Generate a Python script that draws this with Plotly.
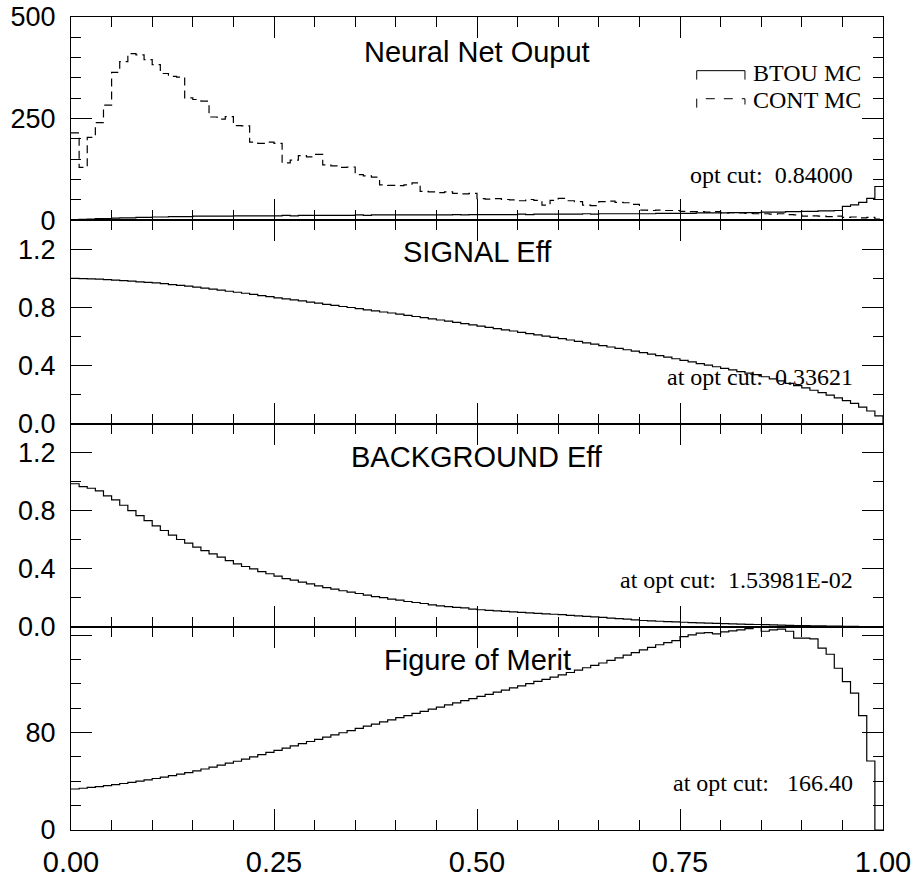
import plotly.graph_objects as go

# ---- data: 100 bins of neural-net output, width 0.01 ----
bin_edges = [round(0.01 * i, 2) for i in range(101)]

btou_mc = [1, 2, 3, 4, 4, 5, 6, 6, 7, 7,
           8, 8, 9, 9, 9, 10, 10, 10, 10, 10,
           11, 11, 11, 11, 11, 11, 12, 11, 12, 12,
           12, 12, 12, 12, 12, 13, 12, 13, 13, 13,
           13, 13, 13, 13, 13, 13, 13, 14, 13, 14,
           14, 14, 14, 14, 14, 15, 14, 15, 15, 15,
           15, 15, 15, 16, 15, 16, 16, 16, 16, 16,
           16, 16, 17, 17, 17, 17, 17, 18, 18, 18,
           18, 19, 19, 19, 19, 20, 20, 20, 21, 21,
           22, 22, 23, 23, 24, 34, 38, 44, 54, 83]

cont_mc = [215, 130, 204, 240, 283, 364, 390, 410, 407, 395,
           383, 361, 354, 352, 301, 297, 293, 254, 249, 255,
           233, 232, 192, 189, 192, 189, 141, 148, 159, 156,
           162, 136, 134, 130, 131, 112, 109, 106, 87, 86,
           85, 87, 92, 71, 70, 68, 70, 66, 65, 66,
           53, 52, 53, 51, 50, 48, 51, 49, 37, 49,
           54, 48, 46, 37, 36, 46, 47, 44, 43, 39,
           25, 24, 25, 24, 24, 22, 21, 21, 20, 21,
           18, 19, 18, 17, 16, 16, 15, 16, 14, 13,
           10, 11, 10, 9, 10, 7, 8, 6, 7, 3]

signal_eff = [1.000, 0.998, 0.996, 0.994, 0.991, 0.988, 0.984, 0.980, 0.976, 0.972,
              0.968, 0.963, 0.957, 0.952, 0.946, 0.940, 0.933, 0.926, 0.919, 0.911,
              0.904, 0.897, 0.889, 0.881, 0.874, 0.866, 0.859, 0.851, 0.844, 0.836,
              0.829, 0.821, 0.814, 0.806, 0.799, 0.791, 0.783, 0.776, 0.768, 0.761,
              0.753, 0.745, 0.737, 0.729, 0.721, 0.713, 0.705, 0.696, 0.688, 0.679,
              0.671, 0.662, 0.654, 0.645, 0.637, 0.628, 0.619, 0.611, 0.602, 0.593,
              0.584, 0.575, 0.566, 0.556, 0.547, 0.537, 0.527, 0.518, 0.508, 0.498,
              0.488, 0.478, 0.467, 0.457, 0.446, 0.435, 0.424, 0.413, 0.402, 0.391,
              0.380, 0.369, 0.358, 0.347, 0.33621, 0.322, 0.308, 0.293, 0.277, 0.261,
              0.245, 0.229, 0.212, 0.195, 0.177, 0.158, 0.138, 0.113, 0.086, 0.053]

background_eff = [0.985, 0.965, 0.954, 0.936, 0.901, 0.874, 0.837, 0.800, 0.766, 0.731,
                  0.695, 0.663, 0.631, 0.601, 0.576, 0.548, 0.525, 0.502, 0.479, 0.456,
                  0.433, 0.415, 0.399, 0.380, 0.365, 0.349, 0.332, 0.321, 0.307, 0.296,
                  0.282, 0.270, 0.259, 0.248, 0.239, 0.229, 0.218, 0.208, 0.200, 0.190,
                  0.184, 0.174, 0.167, 0.160, 0.151, 0.144, 0.138, 0.134, 0.130, 0.122,
                  0.117, 0.113, 0.109, 0.106, 0.102, 0.099, 0.095, 0.092, 0.089, 0.086,
                  0.083, 0.079, 0.075, 0.071, 0.068, 0.064, 0.060, 0.056, 0.052, 0.047,
                  0.043, 0.040, 0.038, 0.035, 0.033, 0.031, 0.029, 0.027, 0.025, 0.023,
                  0.0215, 0.0200, 0.0184, 0.0169, 0.0153981, 0.0140, 0.0126, 0.0112, 0.0098, 0.0087,
                  0.0075, 0.0066, 0.0056, 0.0047, 0.0039, 0.0030, 0.0024, 0.0017, 0.0011, 0.0003]

figure_of_merit = [33.7, 34.3, 35.0, 35.7, 36.5, 37.3, 38.2, 39.2, 40.2, 41.2,
                   42.3, 43.5, 44.7, 45.9, 47.2, 48.5, 50.1, 51.7, 53.3, 54.9,
                   56.5, 58.3, 60.1, 61.9, 63.7, 65.5, 67.3, 69.1, 70.9, 72.7,
                   74.5, 76.3, 78.1, 79.9, 81.7, 83.5, 85.3, 87.0, 88.8, 90.5,
                   92.3, 94.0, 95.8, 97.5, 99.3, 101.0, 102.8, 104.5, 106.3, 108.0,
                   109.8, 111.5, 113.3, 115.0, 116.8, 118.5, 120.3, 122.1, 123.8, 125.6,
                   127.4, 129.4, 131.3, 133.3, 135.2, 137.2, 139.4, 141.5, 143.7, 145.8,
                   148.0, 150.1, 152.2, 154.0, 155.6, 158.9, 160.3, 161.7, 162.2, 161.1,
                   162.8, 163.6, 164.4, 165.5, 166.40, 163.3, 164.4, 165.0, 163.3, 157.6,
                   157.6, 157.0, 149.4, 144.4, 132.9, 121.9, 112.4, 94.0, 56.7, 0.0]

panel_titles = ["Neural Net Ouput", "SIGNAL Eff", "BACKGROUND Eff", "Figure of Merit"]
cut_texts = ["opt cut:\u00a0\u00a00.84000",
             "at opt cut:\u00a0\u00a00.33621",
             "at opt cut:\u00a0\u00a01.53981E-02",
             "at opt cut:\u00a0\u00a0\u00a0166.40"]
legend_names = ["BTOU MC", "CONT MC"]

x_ticks = [0.0, 0.25, 0.50, 0.75, 1.00]
x_tick_text = ["0.00", "0.25", "0.50", "0.75", "1.00"]

SANS = "Liberation Sans, Arial, Helvetica, sans-serif"
SERIF = "Liberation Serif, Times New Roman, serif"

fig = go.Figure()


def step_trace(values, axis_idx, dash="solid", close_at_end=False):
    xs = list(bin_edges)
    ys = list(values) + [values[-1]]
    if close_at_end:
        xs = xs + [bin_edges[-1]]
        ys = ys + [0]
    sfx = "" if axis_idx == 1 else str(axis_idx)
    return go.Scatter(x=xs, y=ys, mode="lines", line_shape="hv",
                      line=dict(color="black", width=1.2, dash=dash),
                      xaxis="x" + sfx, yaxis="y" + sfx, showlegend=False,
                      hoverinfo="skip")


fig.add_trace(step_trace(btou_mc, 1))
fig.add_trace(step_trace(cont_mc, 1, dash="8px,5px"))
fig.add_trace(step_trace(signal_eff, 2, close_at_end=True))
fig.add_trace(step_trace(background_eff, 3))
fig.add_trace(step_trace(figure_of_merit, 4))

# panel stacking (top to bottom)
n = 4
h = 1.0 / n
domains = [[1 - (i + 1) * h, 1 - i * h] for i in range(n)]

y_specs = [
    dict(range=[0, 500], tickvals=[0, 250, 500], ticktext=["0", "250", "500"], minor_dtick=50),
    dict(range=[0, 1.4], tickvals=[0, 0.4, 0.8, 1.2], ticktext=["0.0", "0.4", "0.8", "1.2"], minor_dtick=0.2),
    dict(range=[0, 1.4], tickvals=[0, 0.4, 0.8, 1.2], ticktext=["0.0", "0.4", "0.8", "1.2"], minor_dtick=0.2),
    dict(range=[0, 167], tickvals=[0, 80, 160], ticktext=["0", "80", ""], minor_dtick=20),
]

layout = dict(
    width=917, height=882,
    margin=dict(l=71, r=34, t=17, b=52, autoexpand=False),
    paper_bgcolor="white", plot_bgcolor="white",
    showlegend=False,
)

for i in range(n):
    sfx = "" if i == 0 else str(i + 1)
    spec = y_specs[i]
    layout["xaxis" + sfx] = dict(
        domain=[0, 1], anchor="y" + sfx, range=[0, 1], automargin=False,
        showline=True, linecolor="black", linewidth=1, mirror="ticks",
        ticks="inside", ticklen=21, tickwidth=1, tickcolor="black",
        tickmode="array", tickvals=x_ticks, ticktext=x_tick_text,
        showticklabels=(i == n - 1),
        tickfont=dict(family=SANS, size=29, color="black"),
        ticklabelstandoff=6,
        showgrid=False, zeroline=False,
        minor=dict(tickmode="linear", tick0=0, dtick=0.05, ticks="inside",
                   ticklen=10, tickwidth=1, tickcolor="black", showgrid=False),
    )
    layout["yaxis" + sfx] = dict(
        domain=domains[i], anchor="x" + sfx, range=spec["range"], automargin=False,
        showline=True, linecolor="black", linewidth=1, mirror="ticks",
        ticks="inside", ticklen=21, tickwidth=1, tickcolor="black",
        tickmode="array", tickvals=spec["tickvals"], ticktext=spec["ticktext"],
        tickfont=dict(family=SANS, size=27, color="black"),
        ticklabelstandoff=9,
        showgrid=False, zeroline=False,
        minor=dict(tickmode="linear", tick0=0, dtick=spec["minor_dtick"], ticks="inside",
                   ticklen=10, tickwidth=1, tickcolor="black", showgrid=False),
    )

fig.update_layout(**layout)

annotations = []
title_y = [0.828, 0.842, 0.833, 0.837]
cut_y = [0.225, 0.228, 0.23, 0.232]
for i in range(n):
    sfx = "" if i == 0 else str(i + 1)
    annotations.append(dict(
        text=panel_titles[i], xref="x" + sfx + " domain", yref="y" + sfx + " domain",
        x=0.5, y=title_y[i], xanchor="center", yanchor="middle", showarrow=False,
        font=dict(family=SANS, size=29, color="black")))
    annotations.append(dict(
        text=cut_texts[i], xref="x" + sfx + " domain", yref="y" + sfx + " domain",
        x=0.966, y=cut_y[i], xanchor="right", yanchor="middle", showarrow=False,
        font=dict(family=SERIF, size=24, color="black")))

# legend entries in the top panel
legend_y = [363, 297]
for name, ly in zip(legend_names, legend_y):
    annotations.append(dict(
        text=name, xref="x domain", yref="y", x=0.838, y=ly,
        xanchor="left", yanchor="middle", showarrow=False,
        font=dict(family=SERIF, size=24, color="black")))

fig.update_layout(annotations=annotations)

shapes = []
legend_glyphs = [(368, "solid"), (299, "dash")]
for top, dash in legend_glyphs:
    shapes.append(dict(
        type="path", xref="x domain", yref="y",
        path=f"M 0.7706,{top - 22} L 0.7706,{top} L 0.830,{top} L 0.830,{top - 22}",
        line=dict(color="black", width=1, dash=dash)))
fig.update_layout(shapes=shapes)

fig.write_html("out.html")
